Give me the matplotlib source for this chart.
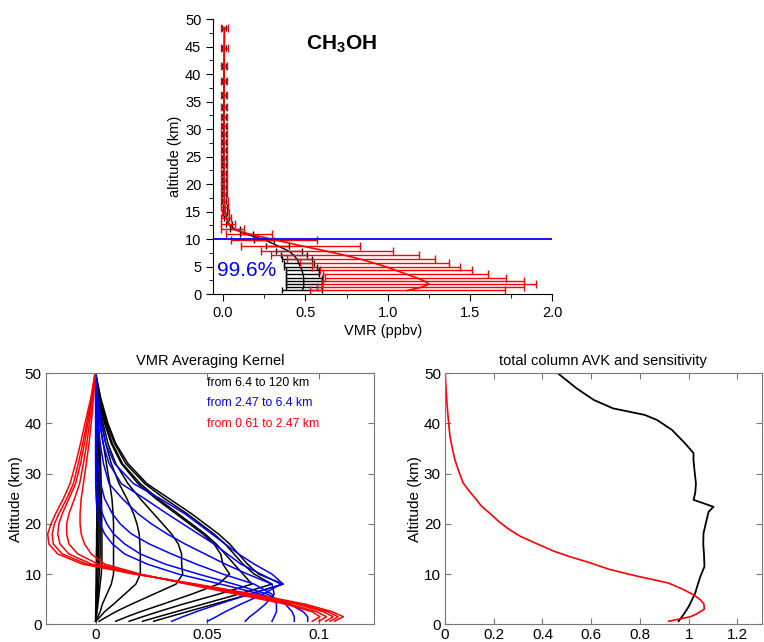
import matplotlib
matplotlib.use("Agg")
import matplotlib.pyplot as plt
from matplotlib.ticker import MultipleLocator

plt.rcParams['font.family'] = ['Liberation Sans', 'DejaVu Sans']
plt.rcParams['mathtext.fontset'] = 'custom'
plt.rcParams['mathtext.rm'] = 'Liberation Sans'
plt.rcParams['mathtext.bf'] = 'Liberation Sans:bold'

RED = '#ff0000'
BLUE = '#0000ff'

# ---- top panel: CH3OH profiles ----
alt_levels = [0.65, 1.2, 1.8, 2.4, 3.0, 3.65, 4.3, 4.95, 5.6, 6.3, 7.05, 7.8, 8.8, 9.9,
              10.9, 11.8, 12.8, 13.8, 14.8, 15.9, 17.0, 18.2, 19.4, 20.7, 22.0, 23.4,
              24.8, 26.2, 27.6, 29.1, 30.6, 32.2, 34.1, 36.3, 38.8, 41.5, 44.7, 48.5]
apriori_vmr = [1.12, 1.20, 1.25, 1.22, 1.17, 1.11, 1.05, 0.99, 0.92, 0.84, 0.74, 0.63, 0.47, 0.31,
               0.16, 0.06, 0.03, 0.02, 0.013, 0.01, 0.008, 0.007, 0.006, 0.006, 0.006, 0.006,
               0.006, 0.006, 0.006, 0.006, 0.006, 0.006, 0.006, 0.006, 0.007, 0.007, 0.008, 0.009]
apriori_err = [0.59, 0.63, 0.65, 0.61, 0.55, 0.50, 0.46, 0.45, 0.45, 0.45, 0.45, 0.40, 0.36, 0.26,
               0.14, 0.07, 0.04, 0.03, 0.022, 0.02, 0.02, 0.02, 0.02, 0.02, 0.02, 0.02,
               0.02, 0.02, 0.02, 0.02, 0.02, 0.02, 0.02, 0.02, 0.02, 0.02, 0.02, 0.02]
retr_vmr = [0.48, 0.49, 0.49, 0.49, 0.49, 0.485, 0.48, 0.47, 0.46, 0.45, 0.43, 0.40, 0.33, 0.25,
            0.14, 0.07, 0.035, 0.022, 0.014, 0.010, 0.008, 0.007, 0.006, 0.005, 0.005, 0.005,
            0.005, 0.005, 0.005, 0.005, 0.005, 0.005, 0.005, 0.005, 0.006, 0.006, 0.007, 0.008]
retr_err = [0.12, 0.11, 0.11, 0.11, 0.11, 0.10, 0.10, 0.10, 0.09, 0.09, 0.08, 0.08, 0.07, 0.06,
            0.04, 0.03, 0.02, 0.015, 0.012, 0.012, 0.012, 0.012, 0.012, 0.012, 0.012, 0.012,
            0.012, 0.012, 0.012, 0.012, 0.012, 0.012, 0.012, 0.012, 0.012, 0.012, 0.012, 0.012]
tropopause = 10.0
dofs_text = "99.6%"

# ---- bottom left: VMR averaging kernels ----
avk_alt = [0.6, 1.5, 2.5, 4, 6, 8, 10, 12, 14, 16, 18, 20, 22, 25, 28, 32, 36, 40, 45, 50]
avk_black = [
    [0.026, 0.033, 0.041, 0.053, 0.069, 0.084, 0.073, 0.068, 0.064, 0.060, 0.055, 0.049, 0.043, 0.033, 0.023, 0.0145, 0.009, 0.0055, 0.0023, 0.0],
    [0.021, 0.028, 0.036, 0.048, 0.064, 0.079, 0.071, 0.066, 0.062, 0.058, 0.053, 0.047, 0.041, 0.031, 0.022, 0.0135, 0.0085, 0.005, 0.002, 0.0],
    [0.015, 0.021, 0.028, 0.039, 0.055, 0.070, 0.066, 0.062, 0.058, 0.054, 0.049, 0.043, 0.037, 0.028, 0.020, 0.012, 0.0075, 0.0045, 0.0018, 0.0],
    [0.009, 0.014, 0.020, 0.030, 0.043, 0.055, 0.060, 0.057, 0.056, 0.053, 0.048, 0.042, 0.036, 0.027, 0.019, 0.0115, 0.007, 0.004, 0.0016, 0.0],
    [0.0015, 0.005, 0.009, 0.016, 0.026, 0.036, 0.039, 0.0385, 0.0385, 0.037, 0.034, 0.030, 0.026, 0.020, 0.0145, 0.009, 0.0055, 0.0033, 0.0013, 0.0],
    [0.0, 0.002, 0.004, 0.008, 0.013, 0.018, 0.020, 0.020, 0.020, 0.0198, 0.0195, 0.0185, 0.017, 0.014, 0.0105, 0.007, 0.0045, 0.0028, 0.0011, 0.0],
    [0.0, 0.001, 0.002, 0.003, 0.005, 0.007, 0.008, 0.008, 0.008, 0.008, 0.008, 0.008, 0.0078, 0.0073, 0.0063, 0.0048, 0.0034, 0.002, 0.0008, 0.0],
    [0.0, 0.0003, 0.0006, 0.001, 0.0015, 0.002, 0.0025, 0.0028, 0.0028, 0.0028, 0.0028, 0.0027, 0.0027, 0.0026, 0.0025, 0.0022, 0.0018, 0.0012, 0.0005, 0.0],
    [0.0, 0.0002, 0.0004, 0.0007, 0.001, 0.0013, 0.0016, 0.0018, 0.002, 0.002, 0.002, 0.002, 0.002, 0.002, 0.0019, 0.0017, 0.0014, 0.001, 0.0004, 0.0],
    [0.0, 0.0001, 0.0002, 0.0004, 0.0006, 0.0008, 0.001, 0.0012, 0.0013, 0.0014, 0.0015, 0.0015, 0.0015, 0.0015, 0.0015, 0.0014, 0.0012, 0.0009, 0.0004, 0.0],
    [0.0, 0.0, 0.0001, 0.0002, 0.0003, 0.0004, 0.0005, 0.0006, 0.0007, 0.0008, 0.0009, 0.001, 0.001, 0.001, 0.001, 0.001, 0.0009, 0.0007, 0.0003, 0.0],
    [0.0, 0.0, 0.0, 0.0001, 0.0001, 0.0002, 0.0002, 0.0003, 0.0003, 0.0004, 0.0004, 0.0005, 0.0005, 0.0005, 0.0005, 0.0005, 0.0005, 0.0004, 0.0002, 0.0],
]
avk_blue = [
    [0.034, 0.039, 0.045, 0.055, 0.069, 0.084, 0.079, 0.071, 0.064, 0.058, 0.052, 0.046, 0.040, 0.029, 0.017, 0.0085, 0.0045, 0.0025, 0.001, 0.0],
    [0.050, 0.054, 0.058, 0.065, 0.075, 0.083, 0.074, 0.065, 0.059, 0.053, 0.046, 0.039, 0.032, 0.022, 0.0115, 0.006, 0.0033, 0.0018, 0.0007, 0.0],
    [0.067, 0.069, 0.072, 0.076, 0.080, 0.079, 0.068, 0.058, 0.049, 0.040, 0.032, 0.025, 0.019, 0.012, 0.006, 0.0035, 0.002, 0.0011, 0.0005, 0.0],
    [0.079, 0.080, 0.081, 0.081, 0.079, 0.071, 0.057, 0.045, 0.034, 0.024, 0.016, 0.011, 0.0075, 0.004, 0.0022, 0.001, 0.0005, 0.0002, 0.0, 0.0],
    [0.089, 0.089, 0.088, 0.085, 0.077, 0.062, 0.046, 0.031, 0.020, 0.013, 0.008, 0.005, 0.003, 0.0012, 0.0004, 0.0, 0.0, 0.0, 0.0, 0.0],
    [0.095, 0.095, 0.093, 0.087, 0.074, 0.056, 0.037, 0.023, 0.013, 0.0075, 0.004, 0.002, 0.0008, 0.0002, 0.0, 0.0, 0.0, 0.0, 0.0, 0.0],
]
avk_red = [
    [0.107, 0.111, 0.106, 0.094, 0.071, 0.045, 0.017, -0.006, -0.017, -0.021, -0.0215, -0.020, -0.018, -0.0145, -0.0115, -0.0090, -0.0068, -0.0048, -0.0022, -0.0003],
    [0.105, 0.1086, 0.104, 0.092, 0.069, 0.044, 0.018, -0.004, -0.015, -0.019, -0.0195, -0.0185, -0.0165, -0.013, -0.010, -0.0078, -0.0058, -0.0040, -0.0019, -0.0003],
    [0.103, 0.1064, 0.102, 0.090, 0.067, 0.043, 0.019, -0.002, -0.012, -0.016, -0.017, -0.0165, -0.015, -0.012, -0.009, -0.0068, -0.005, -0.0035, -0.0017, -0.0002],
    [0.100, 0.1034, 0.099, 0.087, 0.065, 0.042, 0.019, 0.001, -0.008, -0.012, -0.013, -0.013, -0.012, -0.0095, -0.0072, -0.0055, -0.004, -0.0028, -0.0014, -0.0002],
    [0.097, 0.1005, 0.097, 0.085, 0.063, 0.041, 0.020, 0.004, -0.002, -0.005, -0.0065, -0.007, -0.007, -0.0065, -0.0055, -0.0042, -0.003, -0.002, -0.001, -0.0001],
]
avk_labels = ["from 6.4 to 120 km", "from 2.47 to 6.4 km", "from 0.61 to 2.47 km"]

# ---- bottom right: total column AVK and sensitivity ----
tc_alt = [0.6, 2.0, 3.5, 5.0, 6.2, 8.0, 9.5, 11.5, 14.0, 16.0, 18.1, 20.0, 22.4, 23.4, 24.8,
          26.1, 28.0, 30.7, 32.7, 34.1, 36.0, 38.7, 40.7, 41.7, 43.0, 44.7, 47.0, 50.0]
tc_avk = [0.959, 0.98, 1.0, 1.015, 1.027, 1.038, 1.048, 1.065, 1.063, 1.06, 1.061, 1.07, 1.082, 1.102, 1.02,
          1.027, 1.03, 1.024, 1.02, 1.02, 0.986, 0.932, 0.87, 0.82, 0.69, 0.61, 0.54, 0.463]
sens_alt = [0.6, 1.5, 2.0, 3.0, 4.0, 4.8, 5.8, 7.0, 8.2, 9.0, 9.5, 10.2, 11.0, 12.3, 13.5, 14.5, 15.8,
            17.5, 19.0, 20.5, 22.1, 23.5, 24.8, 26.5, 28.1, 30.5, 32.7, 35.0, 37.4, 40.7, 44.0, 47.0, 50.0]
sens_val = [0.918, 1.007, 1.03, 1.064, 1.063, 1.05, 1.023, 0.975, 0.918, 0.845, 0.796, 0.735, 0.67, 0.592,
            0.51, 0.45, 0.388, 0.31, 0.26, 0.22, 0.184, 0.15, 0.129, 0.10, 0.075, 0.056, 0.041, 0.030,
            0.0204, 0.0136, 0.008, 0.004, 0.001]

fig = plt.figure(figsize=(7.64, 6.42), dpi=100)

# top panel (Origin style)
ax = fig.add_axes([0.279, 0.542, 0.444, 0.428])
ax.errorbar(retr_vmr, alt_levels, xerr=retr_err, color='black', lw=1.0, elinewidth=1.0,
            capsize=2.5, capthick=1.0, zorder=2)
ax.errorbar(apriori_vmr, alt_levels, xerr=apriori_err, color=RED, lw=1.2, elinewidth=1.0,
            capsize=3, capthick=1.0, zorder=3)
ax.axhline(tropopause, color=BLUE, lw=1.3, zorder=4)
ax.text(-0.035, 4.25, dofs_text, color=BLUE, fontsize=15, ha='left', va='center')
ax.set_xlim(-0.06, 2.0)
ax.set_ylim(0, 50)
ax.spines['top'].set_visible(False)
ax.spines['right'].set_visible(False)
ax.xaxis.set_major_locator(MultipleLocator(0.5))
ax.xaxis.set_minor_locator(MultipleLocator(0.25))
ax.yaxis.set_major_locator(MultipleLocator(5))
ax.yaxis.set_minor_locator(MultipleLocator(2.5))
ax.xaxis.set_major_formatter(plt.FormatStrFormatter('%.1f'))
ax.tick_params(which='major', direction='out', length=5, labelsize=10.5)
ax.tick_params(which='minor', direction='out', length=3)
ax.set_xlabel("VMR (ppbv)", fontsize=10.5, labelpad=3)
ax.set_ylabel("altitude (km)", fontsize=10.5, labelpad=2)
ax.text(0.72, 45.5, r'$\mathbf{CH_3OH}$', fontsize=15, ha='center', va='center')

# bottom left panel (MATLAB style)
ax2 = fig.add_axes([0.0598, 0.0276, 0.430, 0.391])
for row in avk_black:
    ax2.plot(row, avk_alt, color='black', lw=1.1)
for row in avk_blue:
    ax2.plot(row, avk_alt, color=BLUE, lw=1.1)
for row in avk_red:
    ax2.plot(row, avk_alt, color=RED, lw=1.1)
for lab, col, yy in zip(avk_labels, ['black', BLUE, RED], [48.0, 44.0, 39.8]):
    ax2.text(0.0497, yy, lab, color=col, fontsize=8.8, ha='left', va='center')
ax2.set_xlim(-0.0224, 0.1248)
ax2.set_ylim(0, 50)
ax2.set_xticks([0, 0.05, 0.1])
ax2.set_xticklabels(["0", "0.05", "0.1"])
ax2.set_yticks([0, 10, 20, 30, 40, 50])
ax2.set_title("VMR Averaging Kernel", fontsize=10.5, pad=6)
ax2.set_ylabel("Altitude (km)", fontsize=11, labelpad=1)

# bottom right panel
ax3 = fig.add_axes([0.5825, 0.0276, 0.4145, 0.391])
ax3.plot(tc_avk, tc_alt, color='black', lw=1.3)
ax3.plot(sens_val, sens_alt, color=RED, lw=1.2)
ax3.set_xlim(0, 1.3)
ax3.set_ylim(0, 50)
ax3.set_xticks([0, 0.2, 0.4, 0.6, 0.8, 1.0, 1.2])
ax3.set_xticklabels(["0", "0.2", "0.4", "0.6", "0.8", "1", "1.2"])
ax3.set_yticks([0, 10, 20, 30, 40, 50])
ax3.set_title("total column AVK and sensitivity", fontsize=10.5, pad=6)
ax3.set_ylabel("Altitude (km)", fontsize=11, labelpad=1)

for a in (ax2, ax3):
    for s in a.spines.values():
        s.set_color('#777777')
        s.set_linewidth(0.8)
    a.tick_params(direction='in', length=4, top=True, right=True, labelsize=11,
                  color='#777777', pad=3)

fig.savefig("out.png", dpi=100)
